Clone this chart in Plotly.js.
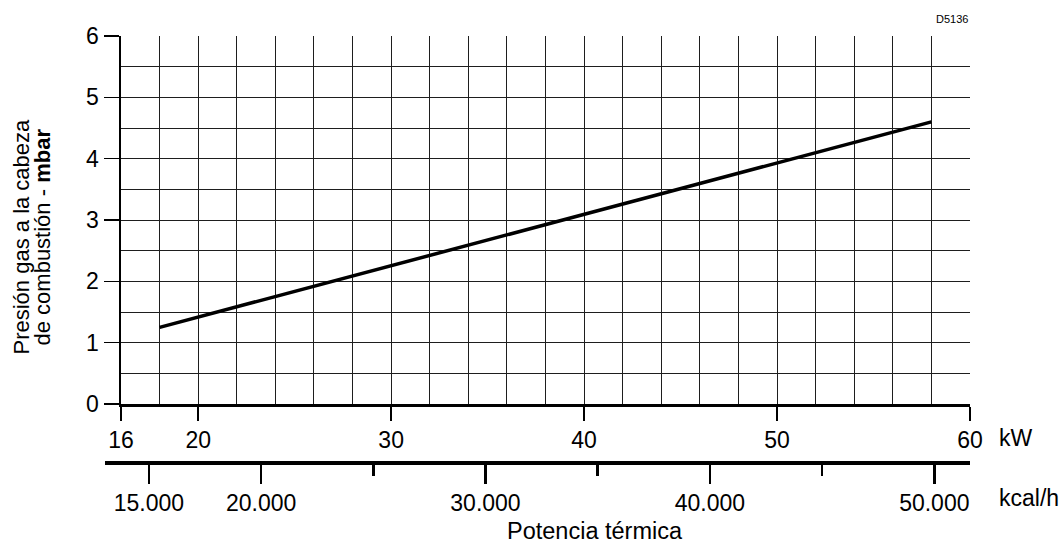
<!DOCTYPE html>
<html>
<head>
<meta charset="utf-8">
<script src="https://cdn.plot.ly/plotly-3.0.1.min.js"></script>
<style>html,body{margin:0;padding:0;background:#fff;}#chart{width:1064px;height:545px;}</style>
</head>
<body>
<div id="chart"></div>
<script>
// ---- data ----
const kwTicks = [16, 20, 30, 40, 50, 60];
const lineKW = [18, 58];
const linePressure = [1.25, 4.6];
const yTicks = [0, 1, 2, 3, 4, 5, 6];
const kcalMajor = [15000, 20000, 30000, 40000, 50000];
const kcalMajorLabels = ['15.000', '20.000', '30.000', '40.000', '50.000'];
const kcalMinor = [25000, 35000, 45000];
const KCAL_PER_KW = 859.845;
const yTitleLines = ['Presión gas a la cabeza', 'de combustión - <b>mbar</b>'];

// ---- layout geometry ----
const W = 1064, H = 545;
const mL = 105, mR = 94, mT = 36, mB = 83;
const plotW = W - mL - mR, plotH = H - mT - mB;
const xStartPx = 16;                 // kW axis starts 16px right of kcal axis line
const xDom0 = xStartPx / plotW;
const yDom0 = 58 / plotH;
const pxPerKW = (plotW - xStartPx) / (60 - 16);
const leftKW = 16 - xStartPx / pxPerKW;
const px = v => (v - mL) / plotW;
const py = v => (462 - v) / plotH;

const fam = 'Liberation Sans, Arial, sans-serif';
const font = {family: fam, size: 23, color: '#000'};
const titleFont = {family: fam, size: 22, color: '#000'};
const gridC = '#1e1e1e';

const traces = [
  {x: lineKW, y: linePressure, xaxis: 'x', yaxis: 'y', mode: 'lines',
   line: {color: '#000', width: 3.5}, hoverinfo: 'skip', showlegend: false},
  {x: lineKW.map(v => v * KCAL_PER_KW), y: [0, 0], xaxis: 'x2', yaxis: 'y2', mode: 'lines',
   line: {color: 'rgba(0,0,0,0)', width: 0}, hoverinfo: 'skip', showlegend: false}
];

const layout = {
  width: W, height: H,
  margin: {l: mL, r: mR, t: mT, b: mB, pad: 0},
  paper_bgcolor: '#fff', plot_bgcolor: 'rgba(0,0,0,0)',
  font: font, showlegend: false,
  xaxis: {
    domain: [xDom0, 1], range: [16, 60], anchor: 'y',
    tickmode: 'array', tickvals: kwTicks, ticks: 'outside', ticklen: 14, tickwidth: 1.5, tickcolor: '#000',
    showline: true, linewidth: 2.5, linecolor: '#000', zeroline: false,
    showgrid: true, gridcolor: gridC, gridwidth: 1,
    minor: {tickmode: 'linear', tick0: 0, dtick: 2, showgrid: true, gridcolor: gridC, gridwidth: 1, ticks: ''},
    tickfont: font
  },
  yaxis: {
    domain: [yDom0, 1], range: [0, 6], anchor: 'x',
    tickmode: 'array', tickvals: yTicks, ticks: 'outside', ticklen: 15, tickwidth: 1.5, tickcolor: '#000',
    showline: true, linewidth: 2.5, linecolor: '#000', zeroline: false,
    showgrid: true, gridcolor: gridC, gridwidth: 1,
    minor: {tickmode: 'linear', tick0: 0, dtick: 0.5, showgrid: true, gridcolor: gridC, gridwidth: 1, ticks: ''},
    tickfont: font, ticklabelstandoff: 0
  },
  xaxis2: {
    domain: [0, 1], range: [leftKW * KCAL_PER_KW, 60 * KCAL_PER_KW], anchor: 'free', position: 0, side: 'bottom',
    tickmode: 'array', tickvals: kcalMajor, ticktext: kcalMajorLabels,
    ticks: 'outside', ticklen: 19, tickwidth: 2.5, tickcolor: '#000',
    showline: true, linewidth: 3.5, linecolor: '#000', zeroline: false, showgrid: false,
    minor: {tickmode: 'array', tickvals: kcalMinor, ticks: 'outside', ticklen: 11, tickwidth: 2.5, tickcolor: '#000', showgrid: false},
    tickfont: font
  },
  yaxis2: {domain: [0, 0.05], range: [0, 1], anchor: 'x2', visible: false},
  annotations: [
    {text: yTitleLines[0], xref: 'paper', yref: 'paper', x: px(20.5), y: py(237), textangle: -90,
     xanchor: 'center', yanchor: 'middle', showarrow: false, font: titleFont},
    {text: yTitleLines[1], xref: 'paper', yref: 'paper', x: px(41.5), y: py(237), textangle: -90,
     xanchor: 'center', yanchor: 'middle', showarrow: false, font: titleFont},
    {text: 'kW', xref: 'paper', yref: 'paper', x: px(997), y: py(438),
     xanchor: 'left', yanchor: 'middle', showarrow: false, font: font},
    {text: 'kcal/h', xref: 'paper', yref: 'paper', x: px(997), y: py(498),
     xanchor: 'left', yanchor: 'middle', showarrow: false, font: font},
    {text: 'Potencia térmica', xref: 'paper', yref: 'paper', x: px(595), y: py(531),
     xanchor: 'center', yanchor: 'middle', showarrow: false, font: {family: fam, size: 23.5, color: '#000'}},
    {text: 'D5136', xref: 'paper', yref: 'paper', x: 1, y: py(19),
     xanchor: 'right', yanchor: 'middle', showarrow: false, font: {family: fam, size: 11, color: '#000'}}
  ]
};

Plotly.newPlot('chart', traces, layout, {displayModeBar: false, staticPlot: true});
</script>
</body>
</html>
